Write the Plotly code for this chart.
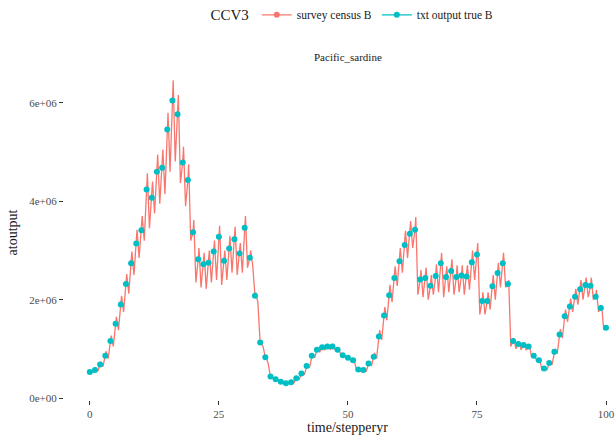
import plotly.graph_objects as go

# yearly "txt output true B" (values in millions)
years = list(range(0, 101))
true_b = [0.53, 0.57, 0.68, 0.86, 1.16, 1.51, 1.90, 2.32, 2.74, 3.14,
          3.41, 4.24, 4.07, 4.60, 4.68, 5.46, 6.05, 5.77, 4.79, 4.43,
          3.37, 2.82, 2.72, 2.75, 2.98, 3.28, 2.79, 3.04, 3.23, 2.94,
          3.46, 2.85, 2.08, 1.13, 0.83, 0.44, 0.38, 0.33, 0.30, 0.32,
          0.40, 0.50, 0.65, 0.86, 0.98, 1.03, 1.05, 1.05, 0.98, 0.87,
          0.82, 0.77, 0.58, 0.57, 0.70, 0.84, 1.25, 1.68, 2.09, 2.44,
          2.78, 3.11, 3.34, 3.42, 2.41, 2.44, 2.28, 2.48, 2.74, 2.46,
          2.58, 2.46, 2.49, 2.47, 2.76, 2.92, 1.97, 1.97, 2.27, 2.54,
          2.74, 2.32, 1.16, 1.10, 1.08, 1.05, 0.86, 0.77, 0.60, 0.71,
          0.94, 1.29, 1.66, 1.86, 2.06, 2.21, 2.30, 2.28, 2.06, 1.83,
          1.43]

# within-year "survey census B": seasonal peak and trough after each yearly value (millions)
census_peak = [0.55, 0.60, 0.74, 0.95, 1.27, 1.65, 2.08, 2.52, 2.98, 3.42,
               3.70, 4.57, 4.40, 4.95, 5.05, 5.80, 6.46, 6.16, 5.11, 4.75,
               3.62, 3.05, 2.95, 3.00, 3.20, 3.50, 3.00, 3.30, 3.48, 3.15,
               3.70, 3.00, 2.14, 1.15, 0.84, 0.45, 0.39, 0.34, 0.31, 0.33,
               0.42, 0.53, 0.69, 0.90, 1.03, 1.08, 1.10, 1.10, 1.03, 0.91,
               0.86, 0.80, 0.60, 0.60, 0.75, 0.92, 1.38, 1.85, 2.30, 2.68,
               3.05, 3.40, 3.60, 3.68, 2.60, 2.65, 2.50, 2.72, 2.95, 2.68,
               2.82, 2.70, 2.70, 2.70, 3.00, 3.15, 2.15, 2.15, 2.50, 2.75,
               2.95, 2.40, 1.22, 1.15, 1.12, 1.09, 0.90, 0.80, 0.62, 0.75,
               1.00, 1.40, 1.80, 2.02, 2.22, 2.40, 2.45, 2.45, 2.20, 1.88]
census_trough = [0.52, 0.55, 0.64, 0.80, 1.05, 1.38, 1.75, 2.12, 2.50, 2.85,
                 3.20, 3.45, 3.75, 3.95, 4.15, 4.60, 4.81, 4.37, 3.90, 3.20,
                 2.35, 2.25, 2.22, 2.35, 2.40, 2.30, 2.40, 2.55, 2.50, 2.55,
                 2.65, 2.70, 1.95, 1.05, 0.70, 0.40, 0.34, 0.30, 0.29, 0.31,
                 0.38, 0.47, 0.62, 0.82, 0.93, 0.97, 0.98, 0.97, 0.90, 0.82,
                 0.76, 0.62, 0.54, 0.54, 0.65, 0.80, 1.18, 1.58, 1.95, 2.28,
                 2.55, 2.85, 3.05, 2.10, 2.05, 2.00, 2.10, 2.15, 2.05, 2.15,
                 2.10, 2.15, 2.10, 2.20, 2.40, 1.70, 1.70, 1.80, 2.00, 2.25,
                 2.25, 1.05, 1.00, 0.98, 0.97, 0.85, 0.75, 0.58, 0.57, 0.68,
                 0.90, 1.22, 1.55, 1.75, 1.90, 2.00, 2.05, 2.00, 1.75, 1.40]

y_tick_vals = [0, 2e6, 4e6, 6e6]
y_tick_text = ["0e+00", "2e+06", "4e+06", "6e+06"]
x_tick_vals = [0, 25, 50, 75, 100]

RED = "#F8766D"
TEAL = "#00BFC4"
SERIF = "Liberation Serif, Times New Roman, serif"

# assemble the survey series: yearly value, seasonal peak, seasonal trough
census_t, census_v = [], []
for i, yr in enumerate(years):
    census_t.append(yr)
    census_v.append(true_b[i] * 1e6)
    if i < len(census_peak):
        census_t.append(yr + 0.15)
        census_v.append(census_peak[i] * 1e6)
        census_t.append(yr + 0.55)
        census_v.append(census_trough[i] * 1e6)

fig = go.Figure()
fig.add_trace(go.Scatter(x=census_t, y=census_v, mode="lines",
                         line=dict(color=RED, width=1.3),
                         showlegend=False, hoverinfo="skip"))
fig.add_trace(go.Scatter(x=years, y=[v * 1e6 for v in true_b], mode="markers",
                         marker=dict(color=TEAL, size=6),
                         showlegend=False))
# legend keys (line + point, as in the original)
fig.add_trace(go.Scatter(x=[None], y=[None], mode="lines+markers",
                         line=dict(color=RED, width=1.3), marker=dict(color=RED, size=6),
                         name="survey census B"))
fig.add_trace(go.Scatter(x=[None], y=[None], mode="lines+markers",
                         line=dict(color=TEAL, width=1.3), marker=dict(color=TEAL, size=6),
                         name="txt output true B"))

L, R, T, B = 64, 0, 63, 35
W, H = 615, 435
pw = W - L - R
ph = H - T - B
cx = (349.5 - L) / pw

fig.update_layout(
    width=W, height=H,
    margin=dict(l=L, r=R, t=T, b=B),
    paper_bgcolor="white", plot_bgcolor="white",
    font=dict(family=SERIF, color="#1A1A1A"),
    legend=dict(orientation="h", x=cx + 0.01, xanchor="center", y=(ph + T - 13) / ph,
                yanchor="middle",
                title=dict(text="CCV3", font=dict(size=15, color="#1A1A1A", family=SERIF)),
                font=dict(size=11.5, color="#1A1A1A", family=SERIF), itemwidth=30,
                bgcolor="rgba(0,0,0,0)"),
    xaxis=dict(range=[-5.0, 101.16], tickvals=x_tick_vals, showgrid=False,
               zeroline=False, showline=False, ticks="outside", ticklen=4,
               tickwidth=1, tickcolor="#333333", ticklabeloverflow="allow",
               tickfont=dict(size=11, color="#4D4D4D", family=SERIF)),
    yaxis=dict(range=[-0.04e6, 6.77e6], tickvals=y_tick_vals, ticktext=y_tick_text,
               showgrid=False, zeroline=False, showline=False, ticks="outside",
               ticklen=4, tickwidth=1, tickcolor="#333333",
               tickfont=dict(size=11, color="#4D4D4D", family=SERIF),
               title=dict(text="atoutput", font=dict(size=14, color="#1A1A1A", family=SERIF),
                          standoff=8)),
    annotations=[
        dict(text="Pacific_sardine", xref="paper", yref="paper", x=cx,
             y=(ph + T - 55) / ph, xanchor="center", yanchor="middle",
             showarrow=False, font=dict(size=11, color="#1A1A1A", family=SERIF)),
        dict(text="time/stepperyr", xref="paper", yref="paper", x=cx,
             y=-(428 - T - ph) / ph, xanchor="center", yanchor="middle",
             showarrow=False, font=dict(size=14, color="#1A1A1A", family=SERIF)),
    ],
)

fig.write_html("out.html")
